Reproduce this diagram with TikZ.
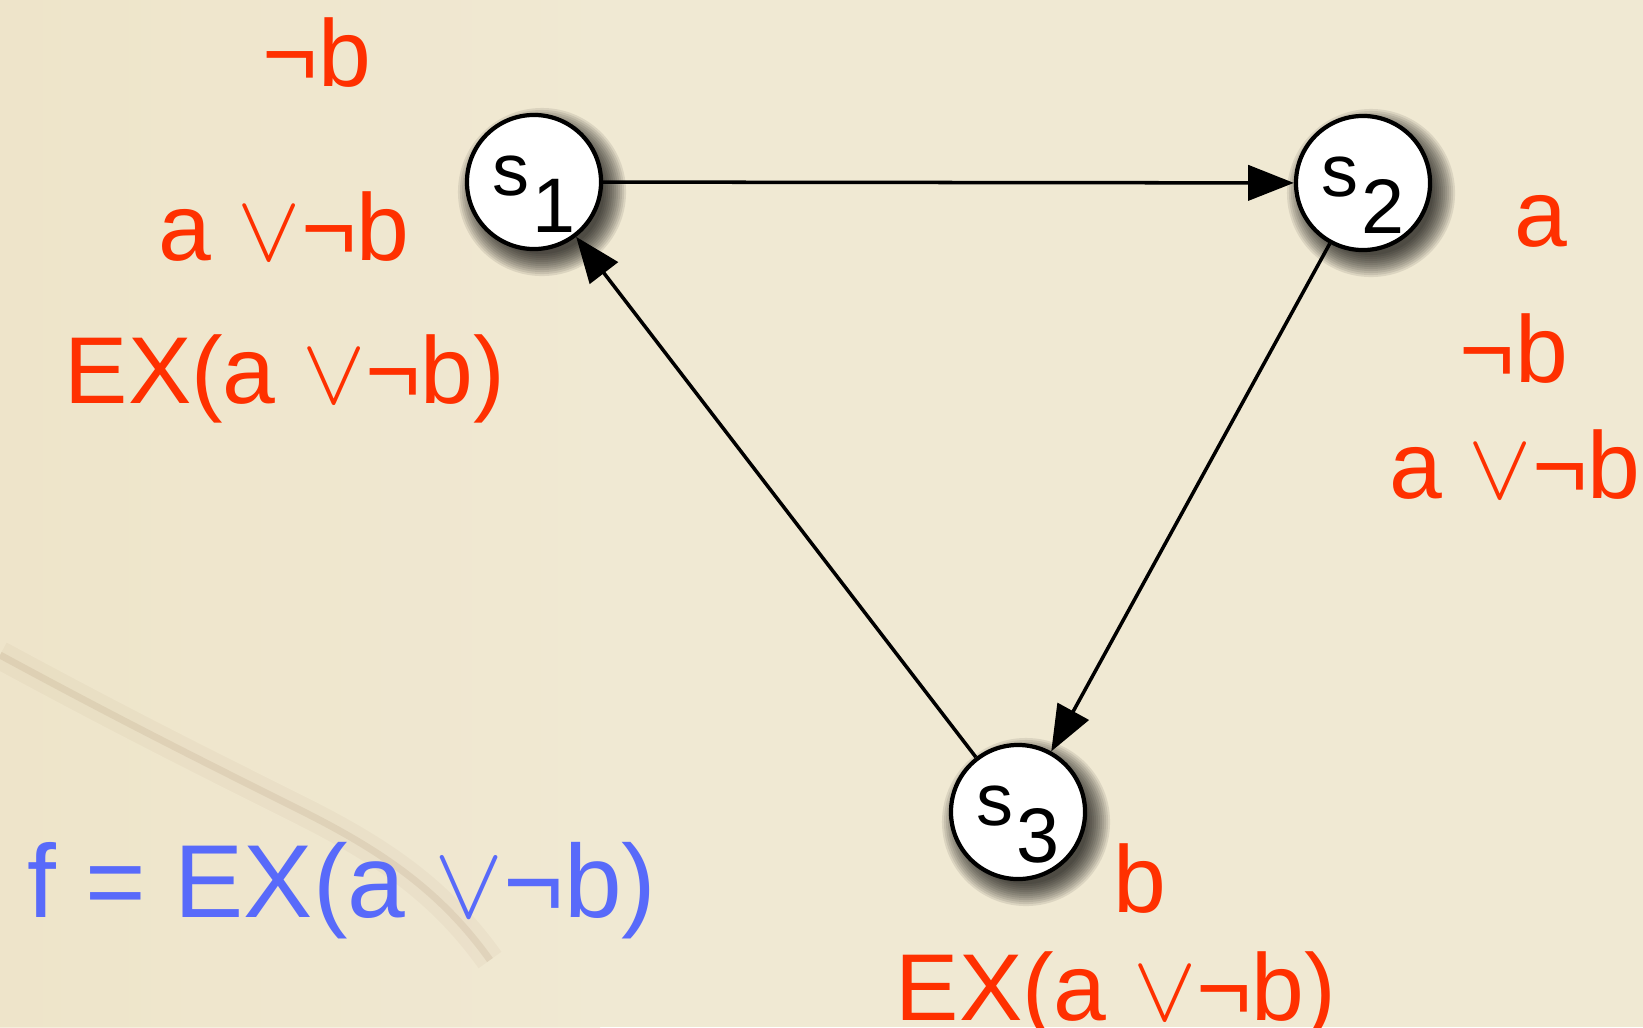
\documentclass[tikz,border=0pt]{standalone}
\usepackage{fix-cm}
\usepackage{fontspec}
\setmainfont{Liberation Sans}
\usetikzlibrary{positioning,arrows.meta}
\definecolor{paper}{RGB}{240,233,211}
\definecolor{paperwarm}{RGB}{238,226,196}
\definecolor{propred}{RGB}{255,48,0}
\definecolor{formblue}{RGB}{88,106,250}
\newcommand{\stname}[2]{#1\kern1pt\raisebox{-10.5pt}{\fontsize{22}{22}\selectfont #2}}
\newcommand{\orsym}{\ensuremath{\vee}}
\tikzset{
  kstate/.style={circle,draw,fill=white,line width=1.2pt,minimum size=1.34cm,inner sep=0pt,
    font=\fontsize{21}{21}\selectfont,text height=18pt,text depth=10.5pt},
  prop/.style={anchor=base,inner sep=0pt,text=propred,font=\fontsize{27}{30}\selectfont},
  formula/.style={anchor=base,inner sep=0pt,text=formblue,font=\fontsize{29.5}{32}\selectfont},
  every edge/.style={draw,-{Triangle[length=13pt,width=10pt]},line width=1pt},
}
\begin{document}
\begin{tikzpicture}[x=0.01cm,y=-0.01cm]

% paper
\useasboundingbox (0,0) rectangle (1643,1027);
\clip (0,0) rectangle (1643,1027);
\fill[paper] (0,0) rectangle (1643,1027);
\shade[left color=paperwarm,right color=paper,opacity=0.6] (0,0) rectangle (600,1027);
\draw[brown!60!black,opacity=0.04,line width=8pt] (0,655) .. controls (120,720) and (200,760) .. (300,810) .. controls (380,850) and (440,890) .. (490,960);
\draw[brown!60!black,opacity=0.09,line width=2pt] (0,655) .. controls (120,720) and (200,760) .. (300,810) .. controls (380,850) and (440,890) .. (490,960);

\coordinate (c1) at (534,182);
\coordinate (c2) at (1363,183);
\coordinate (c3) at (1018,812);

% soft shadows
\foreach \c in {c1,c2,c3}
  \foreach \r in {0.62,0.64,...,0.85}
    \fill[black,opacity=0.085] ([shift={(0.08cm,-0.1cm)}]\c) circle[radius=\r cm];

\node[kstate] (s1) at (c1) {\stname{s}{1}};
\node[kstate] (s2) at (c2) {\stname{s}{2}};
\node[kstate] (s3) at (c3) {\stname{s}{3}};

\path
(s1) edge (s2)
(s2) edge (s3)
(s3) edge (s1);

% labels of s1
\node[prop] (l1a) at (317,86) {¬b};
\node[prop] (l1b) at (284,260) {a \orsym¬b};
\node[prop] (l1c) at (285,403) {EX(a \orsym¬b)};

% labels of s2
\node[prop] (l2a) at (1541,246) {a};
\node[prop] (l2b) at (1514,382) {¬b};
\node[prop] (l2c) at (1515,498) {a \orsym¬b};

% labels of s3
\node[prop] (l3a) at (1140,912) {b};
\node[prop] (l3b) at (1116,1020) {EX(a \orsym¬b)};

\node[formula] (f) at (342,917) {f = EX(a \orsym¬b)};

\end{tikzpicture}
\end{document}
